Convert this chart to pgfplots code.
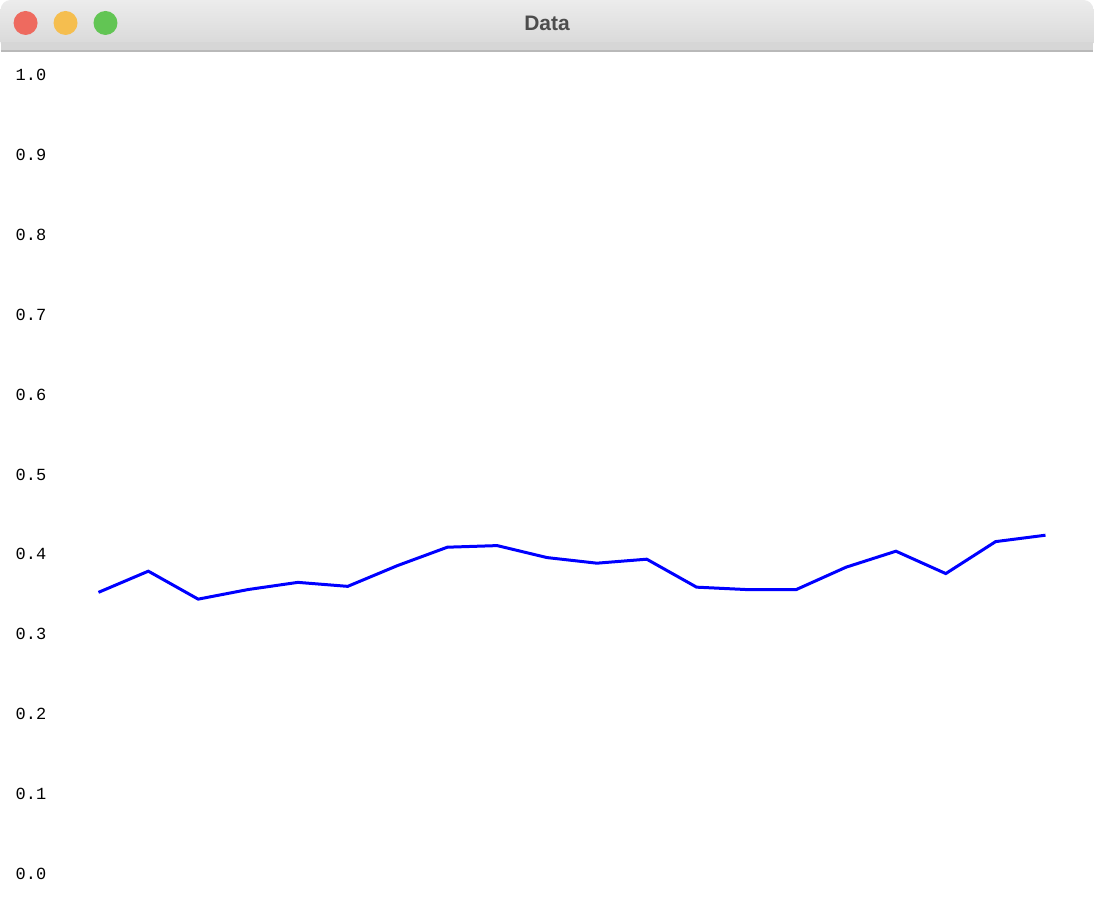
\documentclass[border=0pt]{standalone}
\usepackage{pgfplots}
\pgfplotsset{compat=1.18}
\usepackage{fontspec}
\setmainfont{Liberation Sans}
\newfontfamily\monofont{Liberation Mono}
\definecolor{barTop}{RGB}{236,236,236}
\definecolor{barBot}{RGB}{214,214,214}
\definecolor{barLine}{RGB}{185,185,185}
\definecolor{cRed}{RGB}{238,106,95}
\definecolor{cYel}{RGB}{245,190,79}
\definecolor{cGrn}{RGB}{98,197,84}
\definecolor{titleGray}{RGB}{77,77,77}
\begin{document}
\begin{tikzpicture}[x=1pt,y=1pt]
\fill[white] (0,0) rectangle (547,453);
\shade[top color=barTop, bottom color=barBot, rounded corners=5pt] (0,427) rectangle (547,453);
\fill[barBot] (0,427) rectangle (547,432);
\draw[barLine, line width=0.6pt] (0,427.5) -- (547,427.5);
\fill[cRed] (12.5,441.5) circle (6pt);
\fill[cYel] (32.5,441.5) circle (6pt);
\fill[cGrn] (52.5,441.5) circle (6pt);
\node[font=\fontsize{10.5}{12}\selectfont\bfseries, text=titleGray] at (273.5,441.5) {Data};
\begin{axis}[at={(49pt,15.5pt)}, anchor=south west, scale only axis,
  width=474pt, height=400pt, xmin=0, xmax=19, ymin=0, ymax=1,
  axis line style={draw=none}, tick style={draw=none},
  xtick=\empty, ytick={0,0.1,...,1.0},
  clip=false,
  yticklabel style={anchor=west, xshift=-45pt, font=\monofont\fontsize{8.5}{10}\selectfont},
  /pgf/number format/assume math mode=true,
  yticklabel={\pgfmathprintnumber[fixed,fixed zerofill,precision=1]{\tick}}]
\addplot[blue, line width=1.5pt, mark=none] coordinates {
(0,0.3525)(1,0.379)(2,0.344)(3,0.356)(4,0.365)(5,0.36)(6,0.386)(7,0.409)(8,0.411)(9,0.396)
(10,0.389)(11,0.394)(12,0.359)(13,0.356)(14,0.356)(15,0.384)(16,0.404)(17,0.376)(18,0.416)(19,0.424)};
\end{axis}
\end{tikzpicture}
\end{document}
